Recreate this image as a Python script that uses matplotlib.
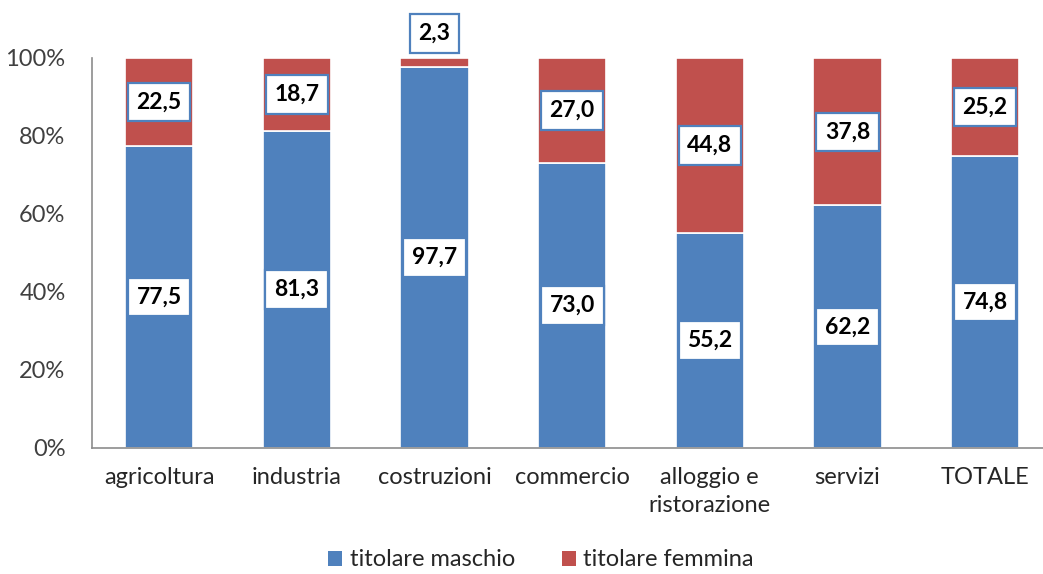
import matplotlib
matplotlib.use("Agg")
import matplotlib.pyplot as plt
from matplotlib.patches import Patch

plt.rcParams['font.family'] = ['Lato', 'DejaVu Sans']

categories = ["agricoltura", "industria", "costruzioni", "commercio",
              "alloggio e\nristorazione", "servizi", "TOTALE"]
maschio = [77.5, 81.3, 97.7, 73.0, 55.2, 62.2, 74.8]
femmina = [22.5, 18.7, 2.3, 27.0, 44.8, 37.8, 25.2]
yticks = [0, 20, 40, 60, 80, 100]
ytick_labels = ["0%", "20%", "40%", "60%", "80%", "100%"]

BLUE = "#4F81BD"
RED = "#C0504D"

fig = plt.figure(figsize=(10.43, 5.74), dpi=100)
ax = fig.add_axes([92/1043, 126/574, (1043-92)/1043, (448-58)/574])

x = list(range(len(categories)))
w = 0.495
ax.bar(x, maschio, width=w, color=BLUE, edgecolor="white", linewidth=1.2, zorder=2)
ax.bar(x, femmina, width=w, bottom=maschio, color=RED, edgecolor="white", linewidth=1.2, zorder=2)

box = dict(boxstyle="square,pad=0.38", facecolor="white", edgecolor=BLUE, linewidth=1.6)
for i, (m, f) in enumerate(zip(maschio, femmina)):
    ax.text(i, m / 2, f"{m:.1f}".replace(".", ","), ha="center", va="center",
            fontsize=16.5, fontweight="bold", color="black", bbox=box, zorder=3)
    yf = m + f / 2 if f >= 5 else 100 + 6.3
    ax.text(i, yf, f"{f:.1f}".replace(".", ","), ha="center", va="center",
            fontsize=16.5, fontweight="bold", color="black", bbox=box, zorder=3,
            clip_on=False)

ax.set_xlim(-0.487, 6.42)
ax.set_ylim(0, 100)
ax.set_yticks(yticks)
ax.set_yticklabels(ytick_labels, fontsize=17, color="#404040")
ax.set_xticks(x)
ax.set_xticklabels(categories, fontsize=17, color="#262626", linespacing=1.4)
ax.tick_params(axis="both", length=0)
ax.tick_params(axis="x", pad=14)
ax.tick_params(axis="y", pad=19)
for s in ["top", "right"]:
    ax.spines[s].set_visible(False)
for s in ["left", "bottom"]:
    ax.spines[s].set_color("#8C8C8C")
    ax.spines[s].set_linewidth(1.2)

handles = [Patch(facecolor=BLUE, label="titolare maschio"),
           Patch(facecolor=RED, label="titolare femmina")]
fig.legend(handles=handles, loc="center", bbox_to_anchor=(541/1043, 1 - 560/574),
           ncol=2, frameon=False, fontsize=17, handlelength=0.6, handleheight=0.6,
           handletextpad=0.3, columnspacing=2.0, labelcolor="#262626")

fig.savefig("out.png", dpi=100)
